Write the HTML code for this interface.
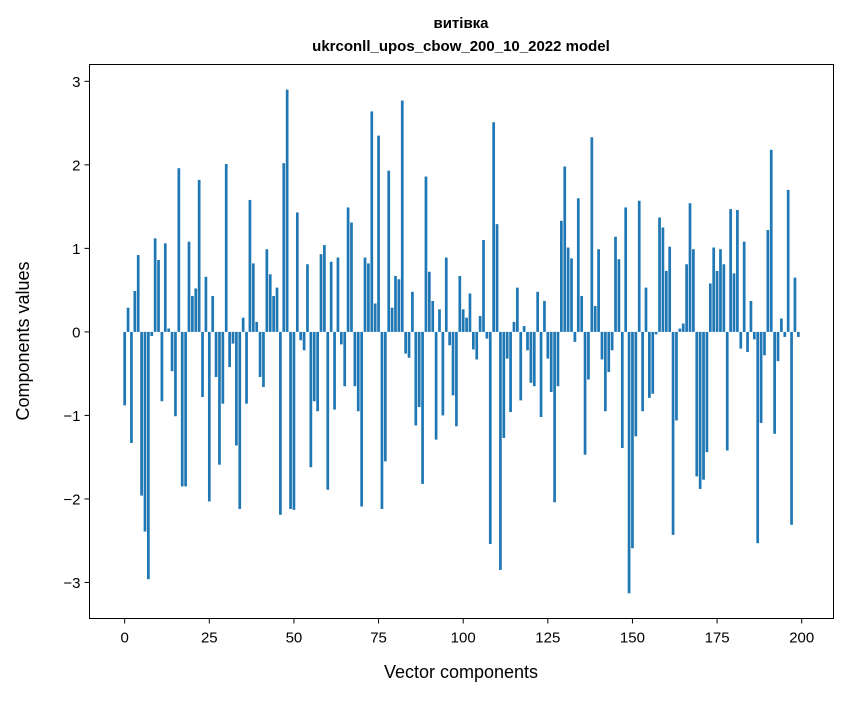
<!DOCTYPE html>
<html><head><meta charset="utf-8">
<style>
body{margin:0;background:#fff;}
svg text{font-family:"Liberation Sans","DejaVu Sans",sans-serif;fill:#000;}
</style></head>
<body>
<svg id="chart" width="847" height="696" viewBox="0 0 847 696" xmlns="http://www.w3.org/2000/svg">
<rect x="0" y="0" width="847" height="696" fill="#fff"/>
<text x="461" y="28" text-anchor="middle" font-size="15" font-weight="bold">витівка</text>
<text x="461" y="51" text-anchor="middle" font-size="15" font-weight="bold">ukrconll_upos_cbow_200_10_2022 model</text>
<g id="bars"></g>
<g id="xticks"></g>
<g id="yticks"></g>
<rect x="89.5" y="64.5" width="744" height="554" fill="none" stroke="#000" stroke-width="1"/>
<text x="461" y="678" text-anchor="middle" font-size="18">Vector components</text>
<text transform="translate(29,341) rotate(-90)" text-anchor="middle" font-size="18">Components values</text>
</svg>
<script>
const values = [
-0.88,0.29,-1.33,0.49,0.92,-1.96,-2.39,-2.96,-0.05,1.12,0.86,-0.83,1.06,0.04,-0.47,-1.01,1.96,-1.85,-1.85,1.08,0.43,0.52,1.82,-0.78,0.66,
-2.03,0.43,-0.54,-1.59,-0.86,2.01,-0.42,-0.14,-1.36,-2.12,0.17,-0.86,1.58,0.82,0.12,-0.54,-0.66,0.99,0.69,0.43,0.53,-2.19,2.02,2.90,-2.12,
-2.13,1.43,-0.10,-0.22,0.81,-1.62,-0.83,-0.95,0.93,1.04,-1.89,0.84,-0.93,0.89,-0.15,-0.65,1.49,1.31,-0.65,-0.95,-2.09,0.89,0.82,2.64,0.34,
2.35,-2.12,-1.55,1.93,0.29,0.67,0.63,2.77,-0.26,-0.31,0.48,-1.12,-0.90,-1.82,1.86,0.72,0.37,-1.29,0.27,-1.00,0.89,-0.16,-0.76,-1.13,0.67,
0.27,0.17,0.46,-0.21,-0.33,0.19,1.10,-0.08,-2.54,2.51,1.29,-2.85,-1.27,-0.32,-0.96,0.12,0.53,-0.82,0.07,-0.22,-0.61,-0.65,0.48,-1.02,0.37,
-0.32,-0.72,-2.04,-0.65,1.33,1.98,1.01,0.88,-0.12,1.60,0.43,-1.47,-0.57,2.33,0.31,0.99,-0.33,-0.95,-0.48,-0.22,1.14,0.87,-1.39,1.49,-3.13,
-2.59,-1.25,1.57,-0.95,0.53,-0.79,-0.74,-0.03,1.37,1.25,0.73,1.02,-2.43,-1.06,0.04,0.10,0.81,1.54,0.99,-1.73,-1.88,-1.77,-1.44,0.58,1.01,
0.73,0.99,0.81,-1.42,1.47,0.70,1.46,-0.20,1.08,-0.24,0.37,-0.09,-2.53,-1.09,-0.28,1.22,2.18,-1.22,-0.35,0.16,-0.06,1.70,-2.31,0.65,-0.06
];
const xTickLabels = ["0","25","50","75","100","125","150","175","200"];
const yTickLabels = ["−3","−2","−1","0","1","2","3"];
const yTickValues = [-3,-2,-1,0,1,2,3];
const xTickValues = [0,25,50,75,100,125,150,175,200];

const L=89.5,R=833.5,T=64.5,B=618.5;
const n=values.length;
let vmin=Math.min(0,...values), vmax=Math.max(0,...values);
const ypad=(vmax-vmin)*0.05;
const yMin=vmin-ypad, yMax=vmax+ypad;
const xMin=-0.4-(n-0.2)*0.05, xMax=n-1+0.4+(n-0.2)*0.05;
const sx=v=>L+(v-xMin)/(xMax-xMin)*(R-L);
const sy=v=>B-(v-yMin)/(yMax-yMin)*(B-T);
const NS="http://www.w3.org/2000/svg";
const gb=document.getElementById('bars');
values.forEach((v,i)=>{
  const r=document.createElementNS(NS,'rect');
  const x0=sx(i-0.4),x1=sx(i+0.4);
  const y0=sy(Math.max(v,0)),y1=sy(Math.min(v,0));
  r.setAttribute('x',x0);r.setAttribute('width',x1-x0);
  r.setAttribute('y',y0);r.setAttribute('height',Math.max(y1-y0,0.01));
  r.setAttribute('fill','#1f77b4');
  
  
  gb.appendChild(r);
});
const gx=document.getElementById('xticks');
xTickValues.forEach((t,k)=>{
  const x=sx(t);
  const l=document.createElementNS(NS,'line');
  l.setAttribute('x1',x);l.setAttribute('x2',x);l.setAttribute('y1',B);l.setAttribute('y2',B+5);
  l.setAttribute('stroke','#000');
  
  
  gx.appendChild(l);
  const tx=document.createElementNS(NS,'text');
  tx.setAttribute('x',x);tx.setAttribute('y',B+24);tx.setAttribute('text-anchor','middle');tx.setAttribute('font-size','15');
  tx.textContent=xTickLabels[k];
  
  
  gx.appendChild(tx);
});
const gy=document.getElementById('yticks');
yTickValues.forEach((t,k)=>{
  const y=sy(t);
  const l=document.createElementNS(NS,'line');
  l.setAttribute('x1',L-5);l.setAttribute('x2',L);l.setAttribute('y1',y);l.setAttribute('y2',y);
  l.setAttribute('stroke','#000');
  
  
  gy.appendChild(l);
  const tx=document.createElementNS(NS,'text');
  tx.setAttribute('x',L-9);tx.setAttribute('y',y+5.5);tx.setAttribute('text-anchor','end');tx.setAttribute('font-size','15');
  tx.textContent=yTickLabels[k];
  
  
  gy.appendChild(tx);
});
</script>
</body></html>
